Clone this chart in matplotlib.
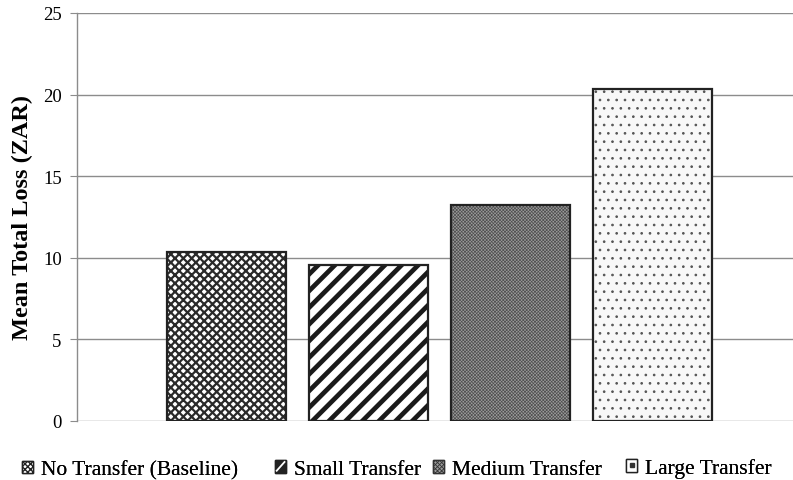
import matplotlib
matplotlib.use("Agg")
import matplotlib.pyplot as plt
from matplotlib.patches import Rectangle
from matplotlib.lines import Line2D
from matplotlib.legend_handler import HandlerBase

series = ["No Transfer (Baseline)", "Small Transfer", "Medium Transfer", "Large Transfer"]
values = [10.35, 9.55, 13.22, 20.32]
yticks = [0, 5, 10, 15, 20, 25]

plt.rcParams['font.family'] = ['Liberation Serif', 'DejaVu Serif']

styles = [
    dict(face='white', hatch='xxxx', hcolor='#2a2a2a', hlw=1.6),
    dict(face='white', hatch='//', hcolor='#1a1a1a', hlw=3.4),
    dict(face='#9c9c9c', hatch='xxxxxxxxxx', hcolor='#505050', hlw=0.5),
    dict(face='#f8f8f8', hatch='..', hcolor='#555555', hlw=0.7),
]

fig = plt.figure(figsize=(7.93, 4.81), dpi=100)
ax = fig.add_axes([77/793, 59/481, 1 - 77/793, (422-14)/481])

x = list(range(len(series)))
width = 0.84
for i, (v, st) in enumerate(zip(values, styles)):
    with plt.rc_context({'hatch.linewidth': st['hlw']}):
        ax.bar(x[i], v, width, color=st['face'], edgecolor=st['hcolor'],
               hatch=st['hatch'], linewidth=0, zorder=3)
    ax.bar(x[i], v, width, fill=False, edgecolor='#222222', linewidth=1.6, zorder=4)

ax.set_xlim(-1.056, 3.99)
ax.set_ylim(0, 25)
ax.set_yticks(yticks)
ax.set_yticklabels([str(t) for t in yticks], fontsize=13.5)
ax.set_xticks([])
ax.yaxis.grid(True, color='#8c8c8c', linewidth=1.0, zorder=0)
ax.set_axisbelow(True)
for sp in ['top', 'right', 'bottom']:
    ax.spines[sp].set_visible(False)
ax.spines['left'].set_color('#8c8c8c')
ax.spines['left'].set_linewidth(1.0)
ax.tick_params(axis='y', length=5, color='#8c8c8c', pad=6)
ax.set_ylabel("Mean Total Loss (ZAR)", fontsize=17.5, fontweight='bold', labelpad=7)


class Icon:
    def __init__(self, kind):
        self.kind = kind


class IconHandler(HandlerBase):
    def create_artists(self, legend, orig_handle, xdescent, ydescent,
                       width, height, fontsize, trans):
        x0, y0 = -xdescent, -ydescent
        arts = []
        k = orig_handle.kind
        if k == 0:
            with plt.rc_context({'hatch.linewidth': 1.0}):
                r = Rectangle((x0, y0), width, height, facecolor='white',
                              edgecolor='#222222', linewidth=1.0, hatch='xxxxxx',
                              transform=trans)
            arts.append(r)
        elif k == 1:
            arts.append(Rectangle((x0, y0), width, height, facecolor='#222222',
                                  edgecolor='#222222', linewidth=1.0, transform=trans))
            arts.append(Line2D([x0 + 0.15*width, x0 + 0.85*width],
                               [y0 + 0.15*height, y0 + 0.85*height],
                               color='white', linewidth=1.3, transform=trans))
        elif k == 2:
            with plt.rc_context({'hatch.linewidth': 0.6}):
                arts.append(Rectangle((x0, y0), width, height, facecolor='#9c9c9c',
                                      edgecolor='#333333', linewidth=1.0,
                                      hatch='xxxxxxxx', transform=trans))
        else:
            arts.append(Rectangle((x0, y0), width, height, facecolor='white',
                                  edgecolor='#222222', linewidth=1.0, transform=trans))
            arts.append(Line2D([x0 + width/2], [y0 + height/2], linestyle='none',
                               marker='s', markersize=2.2, color='#333333',
                               transform=trans))
        return arts


lefts = [22, 275, 433, 626]
tops = [20, 20, 20, 22]
for k, (lab, lx, ty) in enumerate(zip(series, lefts, tops)):
    lg = fig.legend(handles=[Icon(k)], labels=[lab], loc='upper left',
                    bbox_to_anchor=(lx/793, ty/481), frameon=False,
                    fontsize=15.5, handlelength=0.52, handleheight=0.52,
                    handletextpad=0.38, borderpad=0, borderaxespad=0,
                    handler_map={Icon: IconHandler()})
    fig.add_artist(lg)

fig.savefig("out.png", dpi=100)
